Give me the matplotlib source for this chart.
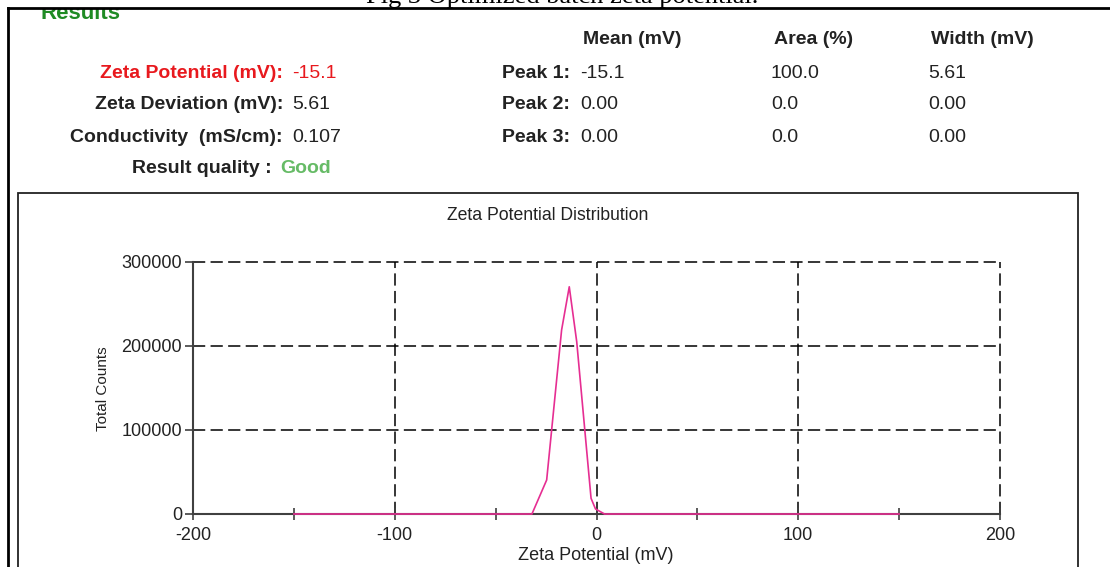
import matplotlib
matplotlib.use("Agg")
import matplotlib.pyplot as plt
from matplotlib.patches import Rectangle

plt.rcParams['font.family'] = ['Liberation Sans', 'DejaVu Sans']

# distribution curve
zeta_mv = [-150, -32, -24.7, -17.3, -13.5, -9.8, -2.7, -0.5, 4, 150]
total_counts = [0, 0, 40500, 219000, 270500, 205000, 18700, 6000, 0, 0]

x_ticks = [-200, -100, 0, 100, 200]
x_minor = [-150, -50, 50, 150]
y_ticks = [0, 100000, 200000, 300000]

summary_labels = ['Zeta Potential (mV):', 'Zeta Deviation (mV):', 'Conductivity  (mS/cm):']
summary_values = ['-15.1', '5.61', '0.107']
quality = 'Good'

peak_names = ['Peak 1:', 'Peak 2:', 'Peak 3:']
peak_mean = ['-15.1', '0.00', '0.00']
peak_area = ['100.0', '0.0', '0.0']
peak_width = ['5.61', '0.00', '0.00']
col_headers = ['Mean (mV)', 'Area (%)', 'Width (mV)']

W, H = 1110, 567
fig = plt.figure(figsize=(W / 100, H / 100), dpi=100)


def P(x, y):
    return x / W, 1 - y / H


dark = '#222222'
red = '#e8191e'
fs = 14

# caption cut off at top
fig.text(*P(562, 3), 'Fig 3 Optimized batch zeta potential.', family='Liberation Serif',
         fontsize=19, ha='center', va='baseline', color='black')

fig.text(*P(40, 19), 'Results', fontsize=16, fontweight='bold', color='#1f8b24',
         ha='left', va='baseline')
# hide the part of "Results" above the frame
fig.patches.append(Rectangle(P(10, 8), 290 / W, 8 / H, transform=fig.transFigure,
                             facecolor='white', edgecolor='none', zorder=5))

# outer frame
fig.add_artist(plt.Line2D([8 / W, 8 / W], [0, 1 - 8 / H], color='black', lw=2, zorder=6))
fig.add_artist(plt.Line2D([8 / W, 1], [1 - 8 / H, 1 - 8 / H], color='black', lw=2, zorder=6))

# summary block
rows_y = [74, 105, 138]
for i, (lab, val) in enumerate(zip(summary_labels, summary_values)):
    c = red if i == 0 else dark
    fig.text(*P(283, rows_y[i]), lab, fontsize=fs, fontweight='bold', color=c,
             ha='right', va='center')
    fig.text(*P(292, rows_y[i]), val, fontsize=fs, color=c, ha='left', va='center')
fig.text(*P(272, 169), 'Result quality :', fontsize=fs, fontweight='bold', color=dark,
         ha='right', va='center')
fig.text(*P(280, 169), quality, fontsize=fs, fontweight='bold', color='#66bb66',
         ha='left', va='center')

col_x = [583, 774, 931]
for hx, h in zip(col_x, col_headers):
    fig.text(*P(hx, 40), h, fontsize=fs, fontweight='bold', color=dark, ha='left', va='center')
for i in range(3):
    fig.text(*P(570, rows_y[i]), peak_names[i], fontsize=fs, fontweight='bold', color=dark,
             ha='right', va='center')
    for cx, vals in zip(col_x, [peak_mean, peak_area, peak_width]):
        fig.text(*P(cx - 3, rows_y[i]), vals[i], fontsize=fs, color=dark, ha='left', va='center')

# chart frame
fig.patches.append(Rectangle(P(18, 600), 1060 / W, 407 / H, transform=fig.transFigure,
                             facecolor='none', edgecolor='#222222', lw=1.3, zorder=4))

ax = fig.add_axes([193 / W, 1 - 514 / H, 807 / W, 252 / H])
ax.plot(zeta_mv, total_counts, color='#e62e92', lw=1.2, zorder=5, clip_on=False)
ax.set_xlim(-200, 200)
ax.set_ylim(0, 300000)
ax.set_xticks(x_ticks)
ax.set_xticks(x_minor, minor=True)
ax.set_yticks(y_ticks)
ax.set_xticklabels([str(v) for v in x_ticks])
ax.set_yticklabels([str(v) for v in y_ticks])
ax.grid(True, which='major', linestyle=(0, (8, 3.5)), color='black', lw=1.1)
for gl in ax.get_xgridlines() + ax.get_ygridlines():
    gl.set_clip_on(False)
ax.set_axisbelow(True)
for s in ['top', 'right']:
    ax.spines[s].set_visible(False)
for s in ['left', 'bottom']:
    ax.spines[s].set_color('#404040')
    ax.spines[s].set_linewidth(1.5)
ax.tick_params(axis='x', which='both', direction='inout', length=9, width=1.2,
               color='#404040', labelsize=13, labelcolor=dark, pad=5)
ax.tick_params(axis='y', direction='out', length=6, width=1.2, color='#404040',
               labelsize=13, labelcolor=dark, pad=2)

fig.text(*P(548, 215), 'Zeta Potential Distribution', fontsize=12.7, color=dark,
         ha='center', va='center')
fig.text(*P(596, 556), 'Zeta Potential (mV)', fontsize=13, color=dark,
         ha='center', va='center')
fig.text(*P(103, 389), 'Total Counts', fontsize=11, color=dark, rotation=90,
         ha='center', va='center')

fig.savefig('out.png', dpi=100)
